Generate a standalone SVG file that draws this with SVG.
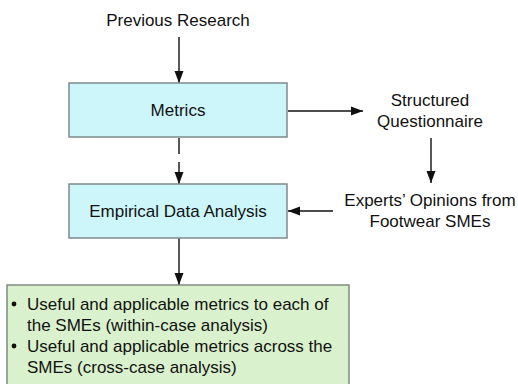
<svg xmlns="http://www.w3.org/2000/svg" width="518" height="384" viewBox="0 0 518 384">
<defs>
<style>
text{font-family:"Liberation Sans",Arial,sans-serif;font-size:17px;fill:#111}
.c{text-anchor:middle}
.blue{fill:#cdf6fa;stroke:#7d8a8c;stroke-width:1.5}
.green{fill:#daf1cd;stroke:#7f8c7c;stroke-width:1.5}
.conn{stroke:#111;stroke-width:1.4;fill:none;marker-end:url(#ah)}
</style>
<marker id="ah" viewBox="0 0 12 10" refX="12" refY="5" markerWidth="12" markerHeight="10" markerUnits="userSpaceOnUse" orient="auto">
<path d="M0,0.5 L12,5 L0,9.5 z" fill="#111"/>
</marker>
</defs>
<rect width="518" height="384" fill="#fff"/>
<g id="connectors">
<path class="conn" d="M179,37 V83"/>
<path class="conn" d="M179,138 V154 M179,162 V184"/>
<path class="conn" d="M288,111 H363"/>
<path class="conn" d="M431,138 V183"/>
<path class="conn" d="M333,211 H288"/>
<path class="conn" d="M179,238 V285"/>
</g>
<g id="previous-research">
<text class="c" x="178" y="26">Previous Research</text>
</g>
<g id="metrics">
<rect class="blue" x="69" y="83" width="218" height="54"/>
<text class="c" x="178" y="116">Metrics</text>
</g>
<g id="structured-questionnaire">
<text class="c" x="430" y="106">Structured</text>
<text class="c" x="430" y="127">Questionnaire</text>
</g>
<g id="empirical-data-analysis">
<rect class="blue" x="69" y="184" width="218" height="54"/>
<text class="c" x="178" y="217">Empirical Data Analysis</text>
</g>
<g id="experts-opinions">
<text class="c" x="430" y="206">Experts’ Opinions from</text>
<text class="c" x="430" y="227">Footwear SMEs</text>
</g>
<g id="outcomes">
<rect class="green" x="7" y="285" width="342" height="110"/>
<circle cx="14" cy="304" r="2.4" fill="#111"/>
<text x="27" y="310">Useful and applicable metrics to each of</text>
<text x="27" y="331">the SMEs (within-case analysis)</text>
<circle cx="14" cy="346" r="2.4" fill="#111"/>
<text x="27" y="352">Useful and applicable metrics across the</text>
<text x="27" y="373">SMEs (cross-case analysis)</text>
</g>
</svg>
